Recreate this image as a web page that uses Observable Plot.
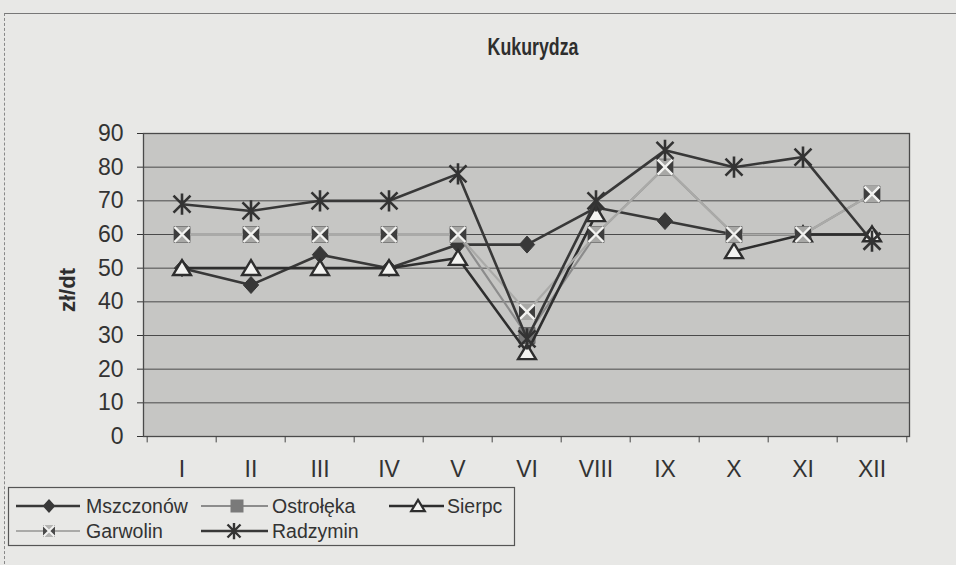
<!DOCTYPE html>
<html>
<head>
<meta charset="utf-8">
<script src="https://cdn.jsdelivr.net/npm/d3@7"></script>
<script src="https://cdn.jsdelivr.net/npm/@observablehq/plot@0.6"></script>
<style>
  html, body { margin: 0; padding: 0; background: #e8e8e6; }
  #wrap { position: relative; width: 956px; height: 565px; background: #e8e8e6; overflow: hidden; font-family: "Liberation Sans", Arial, sans-serif; }
  #border { position: absolute; left: 4px; top: 13px; width: 960px; height: 560px; border-top: 1px solid #777; border-left: 1px dashed #888; }
  #title { position: absolute; left: 383px; width: 300px; top: 33px; text-align: center; font-family: "Liberation Sans", Arial, sans-serif; font-weight: bold; font-size: 24px; color: #2e2e2e; transform: scaleX(0.74); transform-origin: 150px 50%; }
  #ylab { position: absolute; left: 68px; top: 290px; transform: translate(-50%, -50%) rotate(-90deg); font-weight: bold; font-size: 22px; color: #2e2e2e; white-space: nowrap; }
  #chart { position: absolute; left: 0; top: 0; }
  #legend { position: absolute; left: 0; top: 0; }
</style>
</head>
<body>
<div id="wrap">
  <div id="border"></div>
  <div id="title">Kukurydza</div>
  <div id="ylab">zł/dt</div>
  <div id="chart"></div>
  <svg id="legend" width="956" height="565"></svg>
</div>
<script>
// ---- data ----
const months = ["I", "II", "III", "IV", "V", "VI", "VIII", "IX", "X", "XI", "XII"];
const seriesNames = ["Mszczonów", "Ostrołęka", "Sierpc", "Garwolin", "Radzymin"];
const mszczonow = [50, 45, 54, 50, 57, 57, 68, 64, 60, 60, 60];
const ostroleka = [60, 60, 60, 60, 60, 30, 60, 80, 60, 60, 72];
const sierpc    = [50, 50, 50, 50, 53, 25, 66, null, 55, 60, 60];
const garwolin  = [60, 60, 60, 60, 60, 37, 60, 80, 60, 60, 72];
const radzymin  = [69, 67, 70, 70, 78, 29, 70, 85, 80, 83, 58];
const yTicks = [0, 10, 20, 30, 40, 50, 60, 70, 80, 90];

const rows = (arr) => months.map((m, i) => ({month: m, v: arr[i]}));
const dM = rows(mszczonow), dO = rows(ostroleka), dS = rows(sierpc), dG = rows(garwolin), dR = rows(radzymin);

// ---- symbols ----
function sym(fn) { return {draw(ctx, size) { fn(ctx, Math.sqrt(size / Math.PI)); }}; }
const diamond = sym((c, r) => { c.moveTo(0, -r); c.lineTo(r * 0.9, 0); c.lineTo(0, r); c.lineTo(-r * 0.9, 0); c.closePath(); });
const square = sym((c, r) => { c.moveTo(-r, -r); c.lineTo(r, -r); c.lineTo(r, r); c.lineTo(-r, r); c.closePath(); });
const triangle = sym((c, r) => { c.moveTo(0, -r * 0.95); c.lineTo(r * 1.05, r * 0.8); c.lineTo(-r * 1.05, r * 0.8); c.closePath(); });
const hourglass = sym((c, r) => { c.moveTo(-r, -r); c.lineTo(r, -r); c.lineTo(0, 0); c.closePath(); c.moveTo(-r, r); c.lineTo(r, r); c.lineTo(0, 0); c.closePath(); });
const xcross = sym((c, r) => { c.moveTo(-r, -r); c.lineTo(r, r); c.moveTo(r, -r); c.lineTo(-r, r); });
const star = sym((c, r) => { c.moveTo(-r, -r); c.lineTo(r, r); c.moveTo(r, -r); c.lineTo(-r, r); c.moveTo(0, -r * 1.25); c.lineTo(0, r * 1.25); });

const dark = "#383838";
const bw = (909 - 143) / months.length;

const chart = Plot.plot({
  width: 956,
  height: 565,
  marginLeft: 143,
  marginRight: 47,
  marginTop: 133,
  marginBottom: 129,
  style: {background: "transparent", fontFamily: "'Liberation Sans', Arial, sans-serif", fontSize: "23px", color: "#333", overflow: "visible"},
  x: {type: "band", domain: months, padding: 0, tickSize: 0, tickPadding: 24, label: null},
  y: {domain: [0, 90], ticks: yTicks, tickSize: 6, tickPadding: 14, label: null},
  marks: [
    Plot.frame({fill: "#c6c6c4"}),
    Plot.ruleY(yTicks.slice(1), {stroke: "#4a4a4a", strokeWidth: 1}),
    Plot.frame({stroke: "#4a4a4a", strokeWidth: 1.3}),
    Plot.ruleX(months, {x: d => d, y1: 0, y2: -1.9, dx: -bw / 2, stroke: "#444"}),
    Plot.ruleX([months[months.length - 1]], {x: d => d, y1: 0, y2: -1.9, dx: bw / 2, stroke: "#444"}),
    // Mszczonów
    Plot.line(dM, {x: "month", y: "v", stroke: dark, strokeWidth: 2.6}),
    Plot.dot(dM, {x: "month", y: "v", symbol: diamond, r: 8.5, fill: dark, stroke: dark, strokeWidth: 1}),
    // Ostrołęka
    Plot.line(dO, {x: "month", y: "v", stroke: "#8c8c8c", strokeWidth: 2.2}),
    Plot.dot(dO, {x: "month", y: "v", symbol: square, r: 8, fill: "#7a7a7a", stroke: "#666", strokeWidth: 1}),
    // Sierpc
    Plot.line(dS, {x: "month", y: "v", stroke: "#2e2e2e", strokeWidth: 2.6}),
    Plot.dot(dS, {x: "month", y: "v", symbol: triangle, r: 8.5, fill: "#f3f3f1", stroke: "#2e2e2e", strokeWidth: 2.4}),
    // Garwolin
    Plot.line(dG, {x: "month", y: "v", stroke: "#aaaaa8", strokeWidth: 2.2}),
    Plot.dot(dG, {x: "month", y: "v", symbol: square, r: 8, fill: "#3e3e3e"}),
    Plot.dot(dG, {x: "month", y: "v", symbol: hourglass, r: 8, fill: "#a8a8a6"}),
    Plot.dot(dG, {x: "month", y: "v", symbol: xcross, r: 7.5, stroke: "#f2f2f0", strokeWidth: 2.4}),
    // Radzymin
    Plot.line(dR, {x: "month", y: "v", stroke: dark, strokeWidth: 2.6}),
    Plot.dot(dR, {x: "month", y: "v", symbol: star, r: 8.5, stroke: "#333", strokeWidth: 2.6})
  ]
});
document.getElementById("chart").appendChild(chart);

// ---- legend ----
const lg = d3.select("#legend");
lg.append("rect").attr("x", 8.5).attr("y", 487.5).attr("width", 506).attr("height", 58)
  .attr("fill", "none").attr("stroke", "#555").attr("stroke-width", 1.2);
function symPath(s, r) { const p = d3.path(); s.draw(p, Math.PI * r * r); return p.toString(); }
const items = [
  {name: seriesNames[0], x0: 16, x1: 80, mx: 49, tx: 86, y: 506, line: dark, lw: 2.4, marks: [{s: diamond, r: 7, fill: dark}]},
  {name: seriesNames[1], x0: 201, x1: 268, mx: 237, tx: 272, y: 506, line: "#8c8c8c", lw: 2.2, marks: [{s: square, r: 6.5, fill: "#7a7a7a"}]},
  {name: seriesNames[2], x0: 389, x1: 444, mx: 418, tx: 447, y: 506, line: "#2e2e2e", lw: 2.4, marks: [{s: triangle, r: 6.5, fill: "#f3f3f1", stroke: "#2e2e2e", sw: 2.2}]},
  {name: seriesNames[3], x0: 16, x1: 80, mx: 49, tx: 86, y: 531, line: "#aaaaa8", lw: 2.2, marks: [{s: square, r: 6, fill: "#4a4a4a"}, {s: hourglass, r: 6, fill: "#b4b4b2"}, {s: xcross, r: 5.5, stroke: "#f2f2f0", sw: 2}]},
  {name: seriesNames[4], x0: 201, x1: 268, mx: 234, tx: 272, y: 531, line: dark, lw: 2.4, marks: [{s: star, r: 6.5, stroke: "#333", sw: 2.4}]}
];
for (const it of items) {
  lg.append("line").attr("x1", it.x0).attr("x2", it.x1).attr("y1", it.y).attr("y2", it.y)
    .attr("stroke", it.line).attr("stroke-width", it.lw);
  for (const m of it.marks) {
    lg.append("path").attr("d", symPath(m.s, m.r)).attr("transform", `translate(${it.mx},${it.y})`)
      .attr("fill", m.fill || "none").attr("stroke", m.stroke || "none").attr("stroke-width", m.sw || 0);
  }
  lg.append("text").attr("x", it.tx).attr("y", it.y).attr("dy", "0.35em")
    .attr("font-family", "'Liberation Sans', Arial, sans-serif").attr("font-size", 19.5).attr("fill", "#333")
    .text(it.name);
}
</script>
</body>
</html>
